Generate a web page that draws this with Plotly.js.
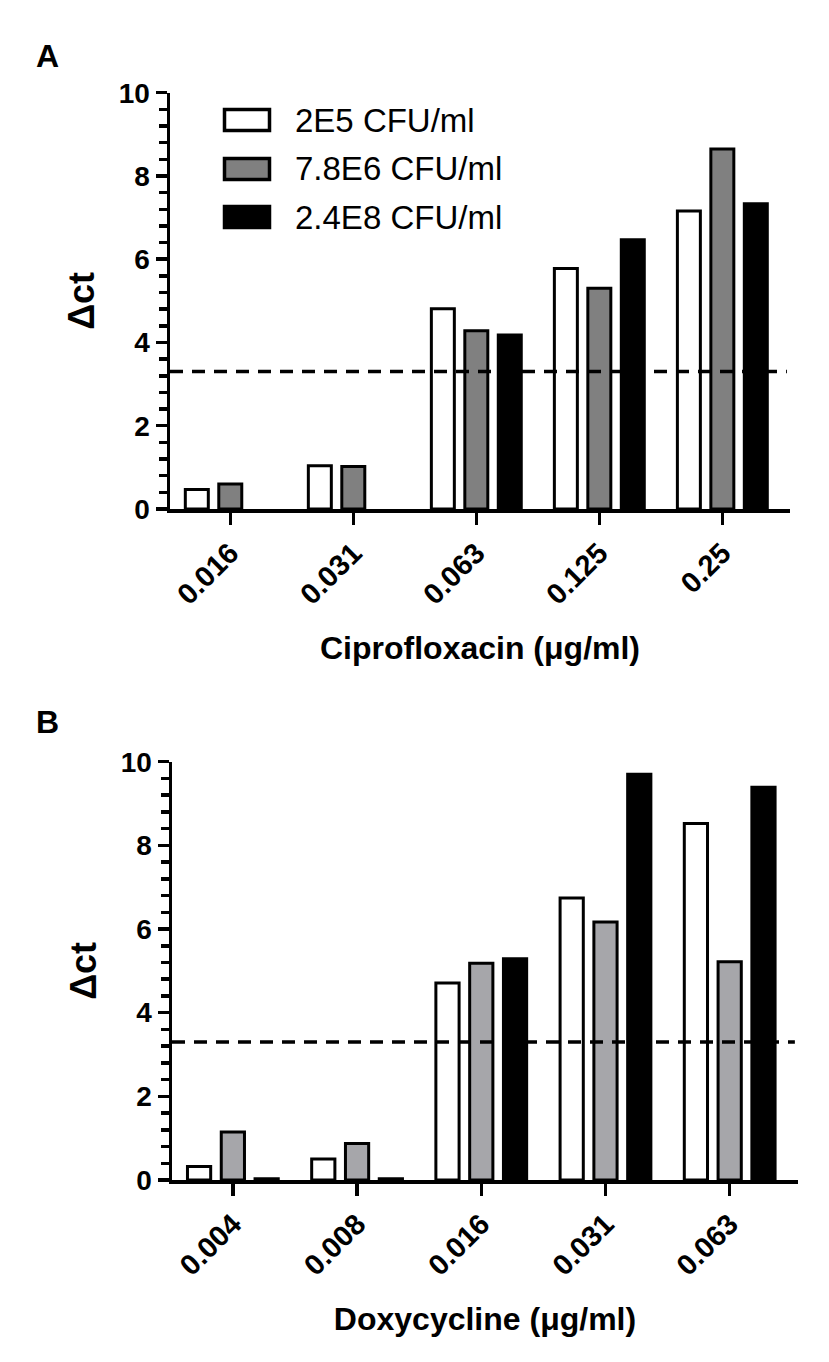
<!DOCTYPE html>
<html>
<head>
<meta charset="utf-8">
<script src="https://cdn.plot.ly/plotly-3.0.1.min.js"></script>
<style>
  html, body { margin: 0; padding: 0; background: #fff; }
  #chart { width: 829px; height: 1362px; }
</style>
</head>
<body>
<div id="chart"></div>
<script>
// categories (antibiotic concentrations, µg/ml)
var concCipro = ["0.016", "0.031", "0.063", "0.125", "0.25"];
var concDoxy = ["0.004", "0.008", "0.016", "0.031", "0.063"];

// inoculum sizes
var seriesNames = ["2E5 CFU/ml", "7.8E6 CFU/ml", "2.4E8 CFU/ml"];

// panel A - ciprofloxacin, delta ct
var cipro2E5 = [0.47, 1.04, 4.81, 5.78, 7.16];
var cipro78E6 = [0.60, 1.02, 4.28, 5.30, 8.65];
var cipro24E8 = [null, null, 4.18, 6.47, 7.33];

// panel B - doxycycline, delta ct
var doxy2E5 = [0.32, 0.50, 4.71, 6.74, 8.52];
var doxy78E6 = [1.15, 0.87, 5.18, 6.17, 5.22];
var doxy24E8 = [0.03, 0.03, 5.29, 9.70, 9.39];

// cut-off line
var cutoff = 3.3;

var W = 829, H = 1362;
function px(x) { return x / W; }
function py(y) { return 1 - y / H; }

var fontFam = "Liberation Sans, Arial, sans-serif";
var fillsA = ["#ffffff", "#808080", "#000000"];
var fillsB = ["#ffffff", "#a6a6aa", "#000000"];

function barTrace(x, y, i, fills, xa, ya) {
  return {
    type: "bar",
    x: x,
    y: y,
    name: seriesNames[i],
    xaxis: xa,
    yaxis: ya,
    showlegend: false,
    marker: { color: fills[i], line: { color: "#000", width: 3 } },
    hoverinfo: "x+y+name"
  };
}

var data = [
  barTrace(concCipro, cipro2E5, 0, fillsA, "x", "y"),
  barTrace(concCipro, cipro78E6, 1, fillsA, "x", "y"),
  barTrace(concCipro, cipro24E8, 2, fillsA, "x", "y"),
  barTrace(concDoxy, doxy2E5, 0, fillsB, "x2", "y2"),
  barTrace(concDoxy, doxy78E6, 1, fillsB, "x2", "y2"),
  barTrace(concDoxy, doxy24E8, 2, fillsB, "x2", "y2")
];

function xAxis(title, dom, anchor) {
  return {
    type: "category",
    domain: dom,
    anchor: anchor,
    range: [-0.49, 4.55],
    showline: true, linewidth: 3.5, linecolor: "#000",
    ticks: "outside", ticklen: 12, tickwidth: 3.5, tickcolor: "#000",
    tickangle: -45,
    tickfont: { family: fontFam, size: 29, weight: "bold", color: "#000" },
    showgrid: false, zeroline: false, fixedrange: true,
    title: { text: title, standoff: 28, font: { family: fontFam, size: 32, weight: "bold", color: "#000" } }
  };
}

function yAxis(dom, anchor) {
  return {
    domain: dom,
    anchor: anchor,
    range: [0, 10],
    tick0: 0, dtick: 2,
    showline: true, linewidth: 3.5, linecolor: "#000",
    ticks: "outside", ticklen: 11, tickwidth: 3.5, tickcolor: "#000",
    tickfont: { family: fontFam, size: 28, weight: "bold", color: "#000" },
    minor: { dtick: 0.4, ticks: "outside", ticklen: 8, tickwidth: 3.5, tickcolor: "#000", showgrid: false },
    showgrid: false, zeroline: false, fixedrange: true,
    title: { text: "Δct", standoff: 14, font: { family: fontFam, size: 36, weight: "bold", color: "#000" } }
  };
}

var shapes = [
  { type: "line", xref: "x domain", yref: "y", x0: 0, x1: 0.995, y0: cutoff, y1: cutoff,
    line: { color: "#000", width: 3.5, dash: "13px,9px" } },
  { type: "line", xref: "x2 domain", yref: "y2", x0: 0, x1: 0.995, y0: cutoff, y1: cutoff,
    line: { color: "#000", width: 3.5, dash: "13px,9px" } }
];

var annotations = [
  { text: "A", xref: "paper", yref: "paper", x: px(47), y: py(56), xanchor: "center", yanchor: "middle",
    showarrow: false, font: { family: fontFam, size: 32, weight: "bold", color: "#000" } },
  { text: "B", xref: "paper", yref: "paper", x: px(47), y: py(722), xanchor: "center", yanchor: "middle",
    showarrow: false, font: { family: fontFam, size: 32, weight: "bold", color: "#000" } }
];

// legend drawn by hand so the swatches keep their wide boxes
var legendY = [120, 169, 217];
seriesNames.forEach(function (name, i) {
  shapes.push({
    type: "rect", xref: "paper", yref: "paper",
    x0: px(224.5), x1: px(269.5), y0: py(legendY[i] + 10.5), y1: py(legendY[i] - 10.5),
    fillcolor: fillsA[i], line: { color: "#000", width: 3.5 }
  });
  annotations.push({
    text: name, xref: "paper", yref: "paper", x: px(293), y: py(legendY[i]),
    xanchor: "left", yanchor: "middle", showarrow: false,
    font: { family: fontFam, size: 33, color: "#000" }
  });
});

var layout = {
  width: W,
  height: H,
  margin: { l: 0, r: 0, t: 0, b: 0 },
  paper_bgcolor: "#fff",
  plot_bgcolor: "#fff",
  barmode: "group",
  bargap: 0.184,
  bargroupgap: 0.313,
  showlegend: false,
  xaxis: xAxis("Ciprofloxacin (μg/ml)", [px(170), px(790)], "y"),
  yaxis: yAxis([py(509), py(92.7)], "x"),
  xaxis2: xAxis("Doxycycline (μg/ml)", [px(172), px(798)], "y2"),
  yaxis2: yAxis([py(1180), py(761.7)], "x2"),
  shapes: shapes,
  annotations: annotations
};

Plotly.newPlot("chart", data, layout, { displayModeBar: false, staticPlot: true });
</script>
</body>
</html>
